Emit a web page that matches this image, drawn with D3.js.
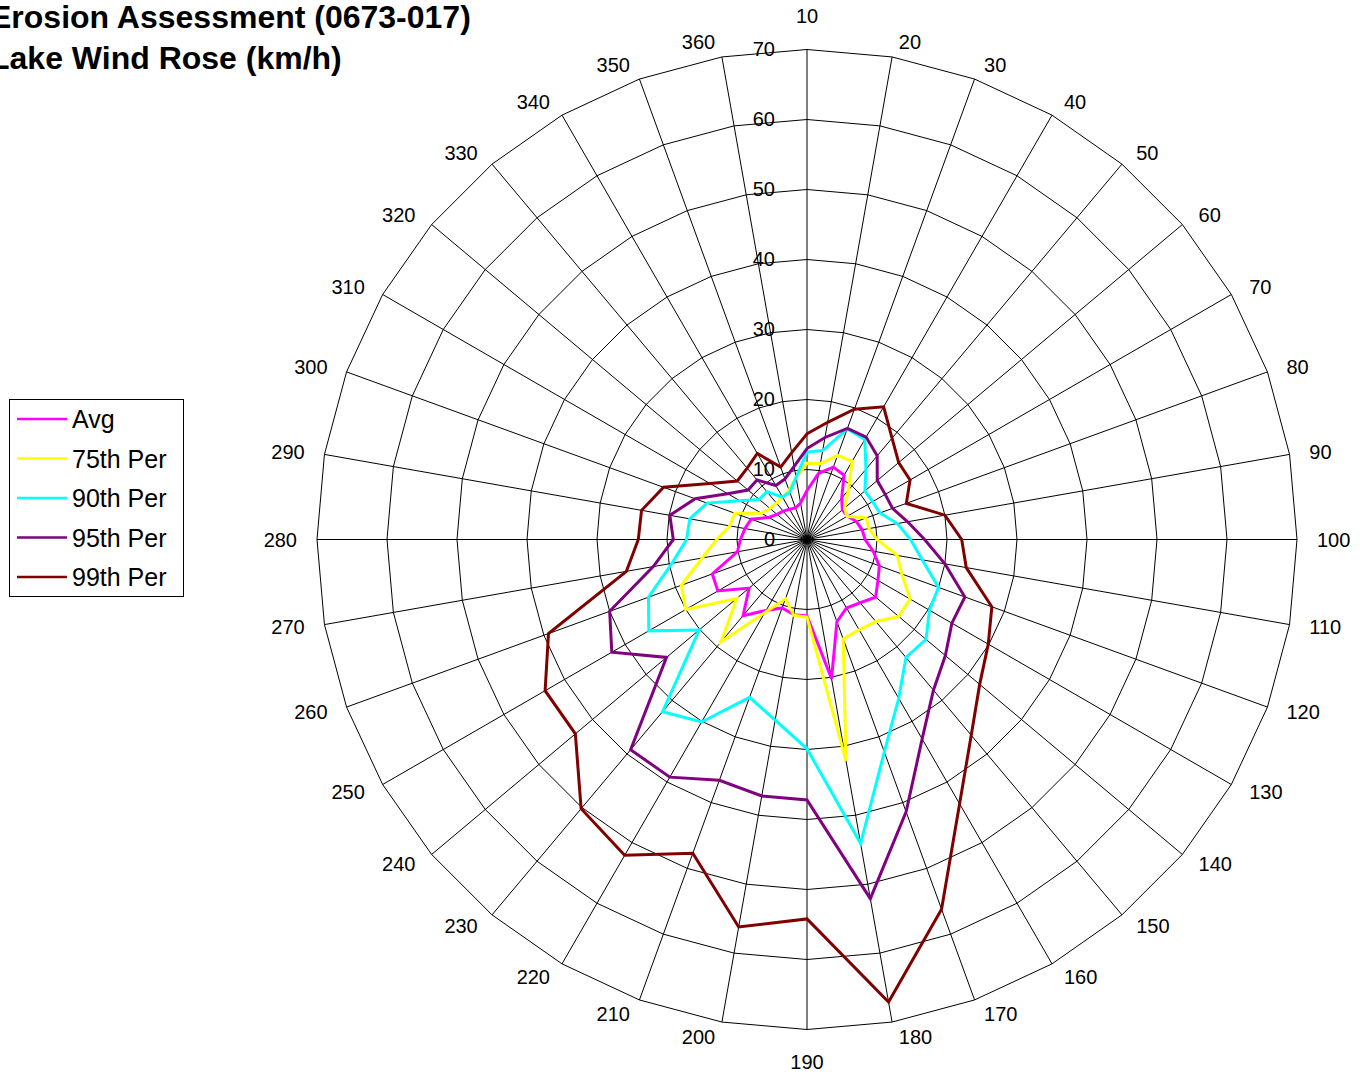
<!DOCTYPE html>
<html><head><meta charset="utf-8">
<script src="https://cdn.jsdelivr.net/npm/d3@7"></script>
<style>
html,body{margin:0;padding:0;background:#fff;overflow:hidden;}
svg{display:block;font-family:"Liberation Sans",Arial,Helvetica,sans-serif;}
</style></head><body>
<svg id="chart" width="1360" height="1076"></svg>
<script>
const categories = ["10","20","30","40","50","60","70","80","90","100","110","120","130","140","150","160","170","180","190","200","210","220","230","240","250","260","270","280","290","300","310","320","330","340","350","360"];
const seriesNames = ["Avg","75th Per","90th Per","95th Per","99th Per"];
const seriesColors = ["#FF00FF","#FFFF00","#00FFFF","#800080","#800000"];
const avg  = [7.0, 9.6, 11.0, 10.6, 7.7, 6.6, 6.7, 7.5, 8.0, 8.3, 9.6, 11.0, 11.7, 12.8, 11.8, 11.3, 12.5, 20.2, 10.9, 10.9, 10.4, 11.7, 14.2, 10.8, 14.7, 14.4, 10.1, 9.5, 9.0, 8.5, 6.3, 5.6, 5.3, 5.0, 4.8, 5.3];
const p75  = [10.9, 11.0, 12.8, 12.9, 9.2, 7.0, 6.6, 9.0, 9.0, 10.0, 13.1, 14.4, 17.0, 17.1, 15.3, 14.9, 15.1, 32.1, 11.1, 11.0, 9.0, 12.1, 19.1, 13.1, 20.0, 19.1, 15.2, 12.9, 11.2, 11.0, 7.5, 6.9, 6.8, 7.0, 7.5, 9.0];
const p90  = [12.5, 12.9, 16.8, 16.5, 13.1, 10.8, 10.8, 11.1, 13.1, 14.8, 16.7, 20.0, 20.2, 22.2, 22.0, 26.2, 32.3, 44.1, 29.9, 26.2, 24.0, 30.1, 32.1, 20.1, 26.1, 24.1, 19.6, 17.2, 17.0, 15.2, 11.1, 8.9, 8.9, 7.0, 7.2, 9.0];
const p95  = [13.0, 14.8, 16.9, 16.9, 15.6, 13.1, 12.9, 13.0, 14.6, 16.8, 20.0, 24.0, 23.9, 25.8, 28.1, 32.9, 41.4, 52.1, 37.2, 37.2, 36.6, 39.2, 39.2, 26.2, 32.2, 30.0, 22.3, 19.1, 19.9, 17.0, 13.1, 11.0, 11.1, 8.9, 9.2, 10.6];
const p99  = [15.1, 17.0, 19.8, 21.9, 18.9, 17.1, 17.0, 15.1, 20.0, 22.1, 23.1, 28.1, 29.9, 32.2, 36.5, 43.6, 56.2, 67.1, 54.2, 56.2, 47.7, 52.1, 50.2, 43.2, 43.2, 39.3, 26.2, 24.1, 24.0, 21.8, 16.0, 13.0, 13.3, 14.2, 11.0, 12.6];
const valueTicks = [0, 10, 20, 30, 40, 50, 60, 70];
const titleLines = ["Erosion Assessment (0673-017)", "Lake Wind Rose (km/h)"];

const seriesValues = [avg, p75, p90, p95, p99];

const cx = 807, cy = 539.5, R = 490;
const svg = d3.select("#chart");
svg.append("rect").attr("width",1360).attr("height",1076).attr("fill","#fff");

const rScale = d3.scaleLinear().domain([0, 70]).range([0, R]);
const aScale = d3.scalePoint().domain(categories)
  .range([0, 2*Math.PI*(categories.length-1)/categories.length]);

const g = svg.append("g").attr("transform", `translate(${cx},${cy})`);

// grid rings
const gridG = g.append("g");
valueTicks.slice(1).forEach(v => {
  gridG.append("path")
    .attr("d", d3.lineRadial().angle(c => aScale(c)).radius(rScale(v)).curve(d3.curveLinearClosed)(categories))
    .attr("fill","none").attr("stroke","#000").attr("stroke-width",1);
});
// spokes
gridG.selectAll("line.spoke").data(categories).join("line")
  .attr("class","spoke")
  .attr("x1",0).attr("y1",0)
  .attr("x2", c => rScale(70)*Math.sin(aScale(c)))
  .attr("y2", c => -rScale(70)*Math.cos(aScale(c)))
  .attr("stroke","#000").attr("stroke-width",1);

// value axis labels
const yAxisScale = d3.scaleLinear().domain([0,70]).range([0,-R]);
const axisG = g.append("g")
  .call(d3.axisLeft(yAxisScale).tickValues(valueTicks).tickSize(0).tickPadding(32).tickFormat(d3.format("d")));
axisG.select(".domain").remove();
axisG.attr("font-size",20).attr("font-family",'"Liberation Sans",Arial,sans-serif');
axisG.selectAll("text").attr("fill","#000");

// category labels
g.selectAll("text.cat").data(categories).join("text")
  .attr("class","cat")
  .attr("font-size",20).attr("fill","#000")
  .attr("text-anchor","middle").attr("dominant-baseline","central")
  .text(c => c)
  .each(function(c){
    const a = aScale(c), s = Math.sin(a), co = Math.cos(a);
    const vx = R*s, vy = -R*co;
    const w = this.getComputedTextLength();
    let x, y;
    if (Math.abs(s) < 1e-6) { x = vx; y = vy + (co > 0 ? -34 : 32); }
    else { x = vx + Math.sign(s)*(w/2 + 4 + 16*Math.abs(s)); y = vy - 15*co; }
    d3.select(this).attr("x", x).attr("y", y);
  });

// series
const seriesG = g.append("g");
seriesValues.forEach((vals, i) => {
  const line = d3.lineRadial()
    .angle((d, j) => aScale(categories[j]))
    .radius(d => rScale(d))
    .curve(d3.curveLinearClosed);
  seriesG.append("path")
    .attr("d", line(vals))
    .attr("fill","none")
    .attr("stroke", seriesColors[i])
    .attr("stroke-width", 3)
    .attr("stroke-linejoin","miter");
});

// title
svg.append("g").selectAll("text").data(titleLines).join("text")
  .attr("x", -10).attr("y", (d,i) => 28 + i*41)
  .attr("font-size", 32).attr("font-weight","bold").attr("fill","#000")
  .text(d => d);

// legend
const lg = svg.append("g");
lg.append("rect").attr("x",9.5).attr("y",399.5).attr("width",174).attr("height",197)
  .attr("fill","#fff").attr("stroke","#000").attr("stroke-width",1);
const legY = d3.scalePoint().domain(seriesNames).range([419, 577]);
seriesNames.forEach((n,i) => {
  lg.append("line").attr("x1",17).attr("x2",67).attr("y1",legY(n)).attr("y2",legY(n))
    .attr("stroke",seriesColors[i]).attr("stroke-width",2.5);
  lg.append("text").attr("x",72).attr("y",legY(n)).attr("dominant-baseline","central")
    .attr("font-size",25).attr("fill","#000").text(n);
});
</script>
</body></html>
